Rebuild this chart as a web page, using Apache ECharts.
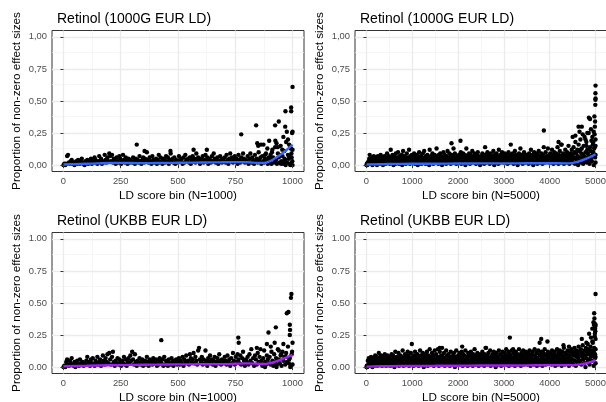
<!DOCTYPE html>
<html><head><meta charset="utf-8">
<script src="https://cdn.jsdelivr.net/npm/echarts@6/dist/echarts.min.js"></script>
<style>html,body{margin:0;padding:0;background:#fff}#c{width:606px;height:402px}</style>
</head><body><div id="c"></div>
<script>
// ---- titles / labels ----
const panelTitles = ['Retinol (1000G EUR LD)','Retinol (1000G EUR LD)','Retinol (UKBB EUR LD)','Retinol (UKBB EUR LD)'];
const binCounts = [1000, 5000, 1000, 5000];
const yTicks = [0, 0.25, 0.5, 0.75, 1];
const yMinor = [0.125, 0.375, 0.625, 0.875];
const xTicks1000 = [0, 250, 500, 750, 1000];
const xMinor1000 = [125, 375, 625, 875];
const xTicks5000 = [0, 1000, 2000, 3000, 4000, 5000];
const xMinor5000 = [500, 1500, 2500, 3500, 4500];

// ---- data: proportion (in percent) per regularly spaced LD score bin ----
const g1000_pct = [
0,1,0,1,7,8,2,1,3,4,1,2,0,2,3,1,4,2,1,3,5,2,1,0,3,
2,4,1,3,2,5,1,3,2,6,4,2,1,3,7,2,5,1,3,2,8,4,2,6,3,
9,7,3,8,2,5,4,1,6,3,2,7,5,1,3,8,4,2,6,3,1,5,2,4,3,
2,6,3,1,5,3,4,2,7,3,1,4,6,2,5,3,10,4,2,6,3,1,7,4,2,
3,5,1,4,8,2,6,3,1,5,4,2,7,3,6,1,4,9,3,5,2,6,1,4,3,
2,7,4,3,5,1,6,2,8,4,3,5,2,6,1,4,7,3,5,2,9,4,6,3,1,
5,3,7,2,4,8,3,6,1,5,4,2,7,3,9,5,2,4,6,1,3,7,4,2,5,
3,6,2,8,4,1,5,9,3,6,2,4,7,3,5,1,8,4,2,6,3,9,5,2,4,
3,7,1,5,9,2,6,4,1,8,3,5,2,10,4,6,1,7,3,2,5,9,4,1,6,
3,8,1,12,5,2,14,4,1,9,6,2,15,3,7,1,11,4,18,2,8,5,1,13,6];
const g1000_extra = [[320,16],[354,11],[467,11],[568,12],[626,12],[776,24],[841,31],[846,17],[850,15],[873,16],[898,19],[924,31],[940,34],[925,19],[930,17],[955,12],[960,22],[968,30],[969,42],[975,26],[980,20],[985,16],[990,14],[994,45],[994,42],[1000,61],[1000,26],[998,25],[1000,12],[995,9],[880,8],[910,10],[945,8],[965,5],[985,7],[999,3],[970,0],[990,0],[1000,0],[950,1],[935,14],[915,6],[890,13],[862,16],[905,5]];
const g1000_smooth = [[0,0.5],[50,0.7],[100,1.0],[150,1.3],[200,1.6],[250,1.7],[300,1.6],[350,1.5],[400,1.6],[450,1.7],[500,1.8],[550,1.9],[600,2.0],[650,2.1],[700,2.2],[750,2.3],[800,2.2],[850,1.7],[875,1.6],[900,3.0],[925,5.5],[950,8.5],[975,12],[1000,16]];

const g5000_pct = [
0,1,0,2,1,3,5,8,2,4,1,6,3,0,5,2,7,4,1,3,6,2,5,0,4,7,3,1,6,2,4,8,5,1,3,6,0,4,2,7,5,3,1,6,4,9,2,5,3,7,
4,1,6,12,3,5,2,8,4,0,7,3,5,1,9,4,6,2,3,10,5,1,7,4,2,6,3,8,0,5,11,4,2,7,3,6,1,5,9,4,2,6,3,12,5,1,7,4,3,8,
5,2,6,3,9,4,1,7,5,2,8,4,0,6,3,10,5,2,7,4,1,6,3,9,5,2,11,4,6,1,7,3,5,8,2,4,6,0,12,5,3,7,4,2,9,5,1,6,3,8,
4,7,2,13,5,3,6,1,8,4,2,9,5,3,7,0,6,4,10,2,5,8,3,6,1,7,4,11,3,5,2,9,6,4,1,8,5,3,7,8,2,6,4,9,3,5,1,6,7,4,
5,3,8,2,6,4,10,1,7,5,3,9,6,2,4,8,0,5,13,3,7,4,6,2,9,5,1,8,3,6,4,11,2,7,5,3,9,4,6,1,8,5,2,10,4,7,3,6,0,5,
3,7,4,9,2,6,5,1,8,14,3,5,7,2,10,4,6,3,8,1,5,9,4,2,7,6,3,11,5,0,8,4,2,6,9,3,7,5,1,12,4,6,2,8,5,3,10,4,7,2,
6,3,9,5,2,8,4,7,1,6,10,3,5,2,8,16,4,6,3,9,5,1,7,4,11,2,6,8,3,5,0,7,4,9,2,6,13,5,3,8,4,1,7,5,10,3,6,2,8,4,
5,8,3,6,1,9,4,7,2,12,5,3,8,6,0,4,10,2,7,5,3,9,6,1,8,4,11,5,2,7,3,6,9,4,1,8,5,14,3,6,2,10,4,7,5,3,13,6,2,8,
4,9,2,7,5,12,3,8,1,6,10,4,7,2,9,5,3,14,6,1,8,4,11,5,2,7,16,3,6,9,4,1,8,5,12,3,7,2,10,6,4,15,8,1,5,9,3,7,12,4,
8,2,14,6,10,1,18,5,9,3,12,7,0,16,4,11,6,20,2,9,13,5,8,1,15,7,22,3,10,6,18,2,12,9,4,25,7,1,14,11,5,19,3,8,16,10,0,13,24,6];
const g5000_extra = [[1856,17],[2052,19],[1900,13],[3872,27],[4192,18],[4250,16],[4500,22],[4560,23],[4629,30],[4650,26],[4700,30],[4720,24],[4780,20],[4820,25],[4854,37],[4880,36],[4900,28],[4930,22],[4960,26],[4975,38],[4985,30],[4990,34],[4995,47],[4997,51],[4998,56],[5000,62],[5000,52],[4999,20],[5000,15],[5000,8],[5000,2],[4950,18],[4800,15],[4670,12],[4980,14],[4940,10]];
const g5000_smooth = [[0,0.5],[500,0.8],[1000,1.0],[1500,1.1],[2000,1.2],[2500,1.3],[3000,1.3],[3500,1.4],[4000,1.5],[4400,1.3],[4600,2.5],[4800,5],[5000,8.5]];

const u1000_pct = [
0,1,0,4,6,2,1,5,3,7,2,1,4,0,3,5,2,1,6,3,2,4,1,3,2,
5,8,2,4,1,6,3,7,2,1,5,3,8,2,4,6,1,3,9,5,2,7,4,10,3,
11,6,2,8,12,4,1,5,3,7,2,6,4,1,5,3,8,2,6,1,4,7,3,9,5,
12,6,2,10,4,1,5,3,7,2,4,6,1,3,5,2,8,4,1,6,3,5,2,7,4,
3,6,1,5,2,7,4,3,6,1,8,2,5,4,1,6,3,2,7,4,1,5,3,6,2,
4,7,2,5,3,8,1,6,4,9,3,5,2,10,7,4,6,11,3,8,5,2,13,15,6,
4,8,2,6,3,13,5,1,7,4,9,3,6,2,5,8,1,4,7,3,10,5,2,6,4,
3,8,5,2,9,4,6,1,7,3,11,5,2,8,4,10,6,3,9,2,7,12,5,1,6,
4,8,2,10,5,14,3,7,1,9,6,2,11,4,8,3,5,1,7,13,4,2,9,6,3,
8,2,12,5,1,10,4,7,2,14,6,3,9,1,12,5,8,2,11,4,16,3,7,1,10];
const u1000_extra = [[427,21],[763,23],[765,19],[844,15],[860,14],[888,18],[895,27],[905,16],[927,31],[922,19],[940,13],[960,18],[975,42],[982,43],[988,33],[989,29],[988,25],[995,57],[993,54],[1000,19],[998,12],[970,8],[950,10],[985,6],[1000,2],[990,0],[880,0],[930,0]];
const u1000_smooth = [[0,0.6],[100,1.0],[200,1.4],[300,1.7],[400,1.9],[500,2.1],[600,2.2],[700,2.3],[750,2.6],[800,2.9],[850,2.6],[875,2.4],[900,3.0],[925,4.2],[950,5.8],[975,7.6],[1000,9.5]];

const u5000_pct = [
0,1,0,5,2,7,3,1,6,4,8,2,5,0,3,7,4,1,6,9,2,5,3,8,1,4,6,11,2,7,5,3,9,4,1,6,8,2,5,3,10,7,4,1,6,3,9,5,2,7,
4,8,1,6,3,10,5,2,9,4,7,0,6,12,3,5,8,2,7,4,11,1,6,3,9,5,2,8,4,13,6,1,7,3,10,5,2,8,4,6,12,3,9,1,5,7,4,11,2,6,
3,8,5,1,9,4,12,6,2,7,3,10,5,8,1,6,4,13,2,9,5,3,7,11,4,0,8,6,2,10,5,3,12,7,1,9,4,6,14,3,8,5,2,11,6,4,9,1,7,13,
5,3,10,6,2,8,14,4,1,7,12,5,3,9,6,15,2,8,4,11,5,1,7,3,13,6,9,2,5,10,4,8,1,6,12,3,7,5,2,9,4,11,6,0,8,3,13,5,7,2,
9,4,6,11,2,8,5,3,12,7,1,10,4,6,9,2,13,5,3,8,6,1,11,4,7,2,9,5,12,3,6,8,1,10,4,7,14,5,2,9,3,6,11,4,8,1,7,5,10,3,
6,9,2,12,4,7,5,1,10,3,8,15,6,2,9,4,11,7,3,5,13,1,8,6,2,10,4,7,12,3,5,9,0,6,11,4,8,2,7,13,5,3,10,6,1,9,4,12,7,2,
8,5,11,3,6,14,2,9,4,7,12,1,6,10,3,8,5,13,2,7,4,11,6,9,1,5,12,3,8,6,10,2,4,14,7,5,9,1,11,3,6,8,13,4,2,10,7,5,12,3,
6,9,2,11,5,8,13,4,1,7,10,3,6,12,5,9,2,14,4,8,6,11,1,7,3,13,5,10,2,9,6,4,12,8,1,7,11,3,5,14,9,2,6,10,4,8,12,3,7,5,
9,4,11,6,2,13,8,5,10,3,7,12,1,6,9,4,14,8,2,11,5,7,13,3,10,6,1,9,12,4,8,15,5,2,11,7,3,10,6,13,4,9,1,8,12,5,7,14,3,10,
6,12,2,9,15,5,11,1,8,13,4,10,7,16,3,12,9,5,14,2,11,8,17,6,10,3,13,9,0,15,7,12,4,18,10,6,14,2,11,16,8,13,5,20,9,12,1,15,24,7];
const u5000_extra = [[990,18],[2089,16],[3130,23],[3814,22],[3780,19],[3950,20],[4300,17],[4420,16],[3200,14],[2600,15],[1600,15],[4700,22],[4800,19],[4860,26],[4900,23],[4930,30],[4955,35],[4965,33],[4970,42],[4975,38],[4980,34],[4985,26],[4990,30],[4995,28],[4998,32],[5000,57],[5000,33],[5000,22],[5000,14],[5000,8],[5000,3],[4940,19],[4960,12],[4990,10]];
const u5000_smooth = [[0,0.4],[500,0.7],[1000,0.9],[1500,1.0],[2000,1.1],[2500,1.2],[3000,1.2],[3500,1.3],[4000,1.5],[4500,1.5],[4700,2.3],[4850,3.5],[5000,5.5]];

// ---- build chart ----
const FONT = 'Liberation Sans, Arial, sans-serif';
const panels = [
  {pct:g1000_pct, extra:g1000_extra, smooth:g1000_smooth, color:'#3366FF', comma:true,  left:52,  top:30.5},
  {pct:g5000_pct, extra:g5000_extra, smooth:g5000_smooth, color:'#3366FF', comma:true,  left:355, top:30.5},
  {pct:u1000_pct, extra:u1000_extra, smooth:u1000_smooth, color:'#A020F0', comma:false, left:52,  top:232.5},
  {pct:u5000_pct, extra:u5000_extra, smooth:u5000_smooth, color:'#A020F0', comma:false, left:355, top:232.5}
];
const W = 252, H = 141;
const grid = [], xAxis = [], yAxis = [], series = [], title = [];
panels.forEach((p, i) => {
  const N = binCounts[i];
  const xt = N === 1000 ? xTicks1000 : xTicks5000;
  const xm = N === 1000 ? xMinor1000 : xMinor5000;
  grid.push({left:p.left, top:p.top, width:W, height:H, show:true, borderColor:'#333333', borderWidth:1,
             backgroundColor:'#ffffff', containLabel:false, outerBoundsMode:'none', z:0});
  title.push({text:panelTitles[i], left:p.left, top:p.top - 23,
              textStyle:{fontFamily:FONT, fontSize:14, fontWeight:'normal', color:'#000'}});
  xAxis.push({gridIndex:i, type:'value', min:-0.05*N, max:1.05*N, z:6,
    name:'LD score bin (N=' + N + ')', nameLocation:'middle', nameGap:18,
    nameTextStyle:{fontFamily:FONT, fontSize:11.7, color:'#000'},
    axisLine:{show:false}, splitLine:{show:false},
    axisTick:{show:true, length:3, customValues:xt, lineStyle:{color:'#333333', width:1}},
    axisLabel:{customValues:xt, margin:5, fontFamily:FONT, fontSize:9.4, color:'#4D4D4D',
               formatter:v => String(v)}});
  yAxis.push({gridIndex:i, type:'value', min:-0.05, max:1.05, z:6,
    name:'Proportion of non-zero effect sizes', nameLocation:'middle', nameGap:29,
    nameTextStyle:{fontFamily:FONT, fontSize:11.7, color:'#000'},
    axisLine:{show:false}, splitLine:{show:false},
    axisTick:{show:true, length:3, customValues:yTicks, lineStyle:{color:'#333333', width:1}},
    axisLabel:{customValues:yTicks, margin:5, fontFamily:FONT, fontSize:9.4, color:'#4D4D4D',
               formatter:v => p.comma ? v.toFixed(2).replace('.', ',') : v.toFixed(2)}});
  const major = {color:'#EBEBEB', width:1.3, type:'solid'};
  const minor = {color:'#F2F2F2', width:0.7, type:'solid'};
  const ml = [];
  xm.forEach(v => ml.push({xAxis:v, lineStyle:minor}));
  yMinor.forEach(v => ml.push({yAxis:v, lineStyle:minor}));
  xt.forEach(v => ml.push({xAxis:v, lineStyle:major}));
  yTicks.forEach(v => ml.push({yAxis:v, lineStyle:major}));
  series.push({type:'line', xAxisIndex:i, yAxisIndex:i, data:[], silent:true, z:1,
    markLine:{silent:true, z:1, symbol:['none','none'], label:{show:false}, animation:false, data:ml}});
  const step = N / p.pct.length;
  const pts = p.pct.map((v, k) => [k * step, v / 100]).concat(p.extra.map(e => [e[0], e[1] / 100]));
  series.push({type:'scatter', xAxisIndex:i, yAxisIndex:i, data:pts, symbolSize:4.4, z:3,
    itemStyle:{color:'#000000', opacity:1, borderWidth:0, borderColor:'#000000'},
    emphasis:{disabled:true}, silent:true});
  series.push({type:'line', xAxisIndex:i, yAxisIndex:i, data:p.smooth.map(s => [s[0], s[1] / 100]), z:5,
    smooth:0.4, showSymbol:false, silent:true, lineStyle:{color:p.color, width:2.4}});
});
const chart = echarts.init(document.getElementById('c'), null, {renderer:'canvas'});
chart.setOption({animation:false, backgroundColor:'#ffffff', title, grid, xAxis, yAxis, series});
</script></body></html>
